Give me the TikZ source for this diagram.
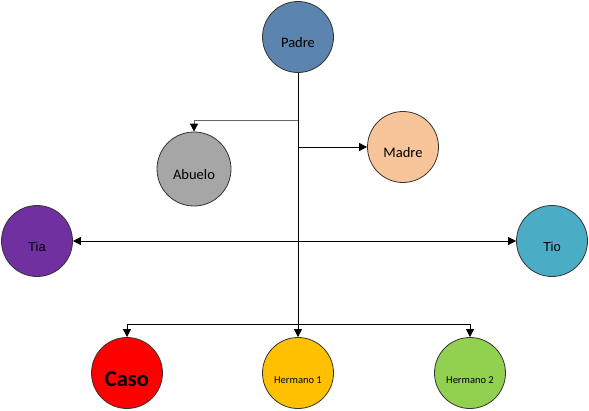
\documentclass[tikz,border=0pt]{standalone}
\usepackage{fontspec}
\setmainfont{Carlito}
\newfontfamily\arialfont{Liberation Sans}
\usetikzlibrary{arrows.meta}

\definecolor{padrecol}{RGB}{91,132,174}
\definecolor{abuelocol}{RGB}{166,166,166}
\definecolor{madrecol}{RGB}{248,196,154}
\definecolor{tiacol}{RGB}{112,48,160}
\definecolor{tiocol}{RGB}{75,172,198}
\definecolor{hermunocol}{RGB}{255,192,0}
\definecolor{hermdoscol}{RGB}{146,208,80}

\begin{document}
\begin{tikzpicture}[%
  x = 1pt, y = -1pt,
  person/.style = {circle, draw = black!80, line width = 0.8pt, inner sep = 0pt,
    minimum size = 71pt, text height = 22pt, text depth = 1pt,
    font = \fontsize{14.5}{16}\selectfont},
  tip/.style = {-{Triangle[length = 8pt, width = 8pt, color = black]}},
  link/.style = {line width = 0.8pt}]
  \useasboundingbox (0, 0) rectangle (589, 410);

  \node[person, fill = padrecol]  (padre)  at (298, 37)  {Padre};
  \node[person, fill = abuelocol, minimum size = 74pt] (abuelo) at (194, 169) {Abuelo};
  \node[person, fill = madrecol]  (madre)  at (403, 147) {Madre};
  \node[person, fill = tiacol, font = \arialfont\fontsize{13}{15}\selectfont]  (tia) at (37, 241)  {Tia};
  \node[person, fill = tiocol, font = \arialfont\fontsize{13}{15}\selectfont]  (tio) at (552, 241) {Tio};
  \node[person, fill = red, text height = 27pt, font = \bfseries\fontsize{22.5}{25}\selectfont] (caso) at (127, 373) {Caso};
  \node[person, fill = hermunocol, font = \fontsize{10.5}{12}\selectfont] (herm1) at (298, 373) {Hermano 1};
  \node[person, fill = hermdoscol, font = \fontsize{10.5}{12}\selectfont] (herm2) at (470, 373) {Hermano 2};

  \coordinate (jabuelo) at (298, 120);
  \coordinate (jmadre)  at (298, 147);
  \coordinate (jhijos)  at (298, 324);

  \draw[link, tip] (padre) -- (herm1);
  \draw[link, tip, black!60] (jabuelo) -| (abuelo);
  \draw[link, tip] (jmadre) -- (madre);
  \draw[link, {Triangle[length = 8pt, width = 8pt]}-{Triangle[length = 8pt, width = 8pt]}] (tia) -- (tio);
  \draw[link, tip] (jhijos) -| (caso);
  \draw[link, tip] (jhijos) -| (herm2);
\end{tikzpicture}
\end{document}
